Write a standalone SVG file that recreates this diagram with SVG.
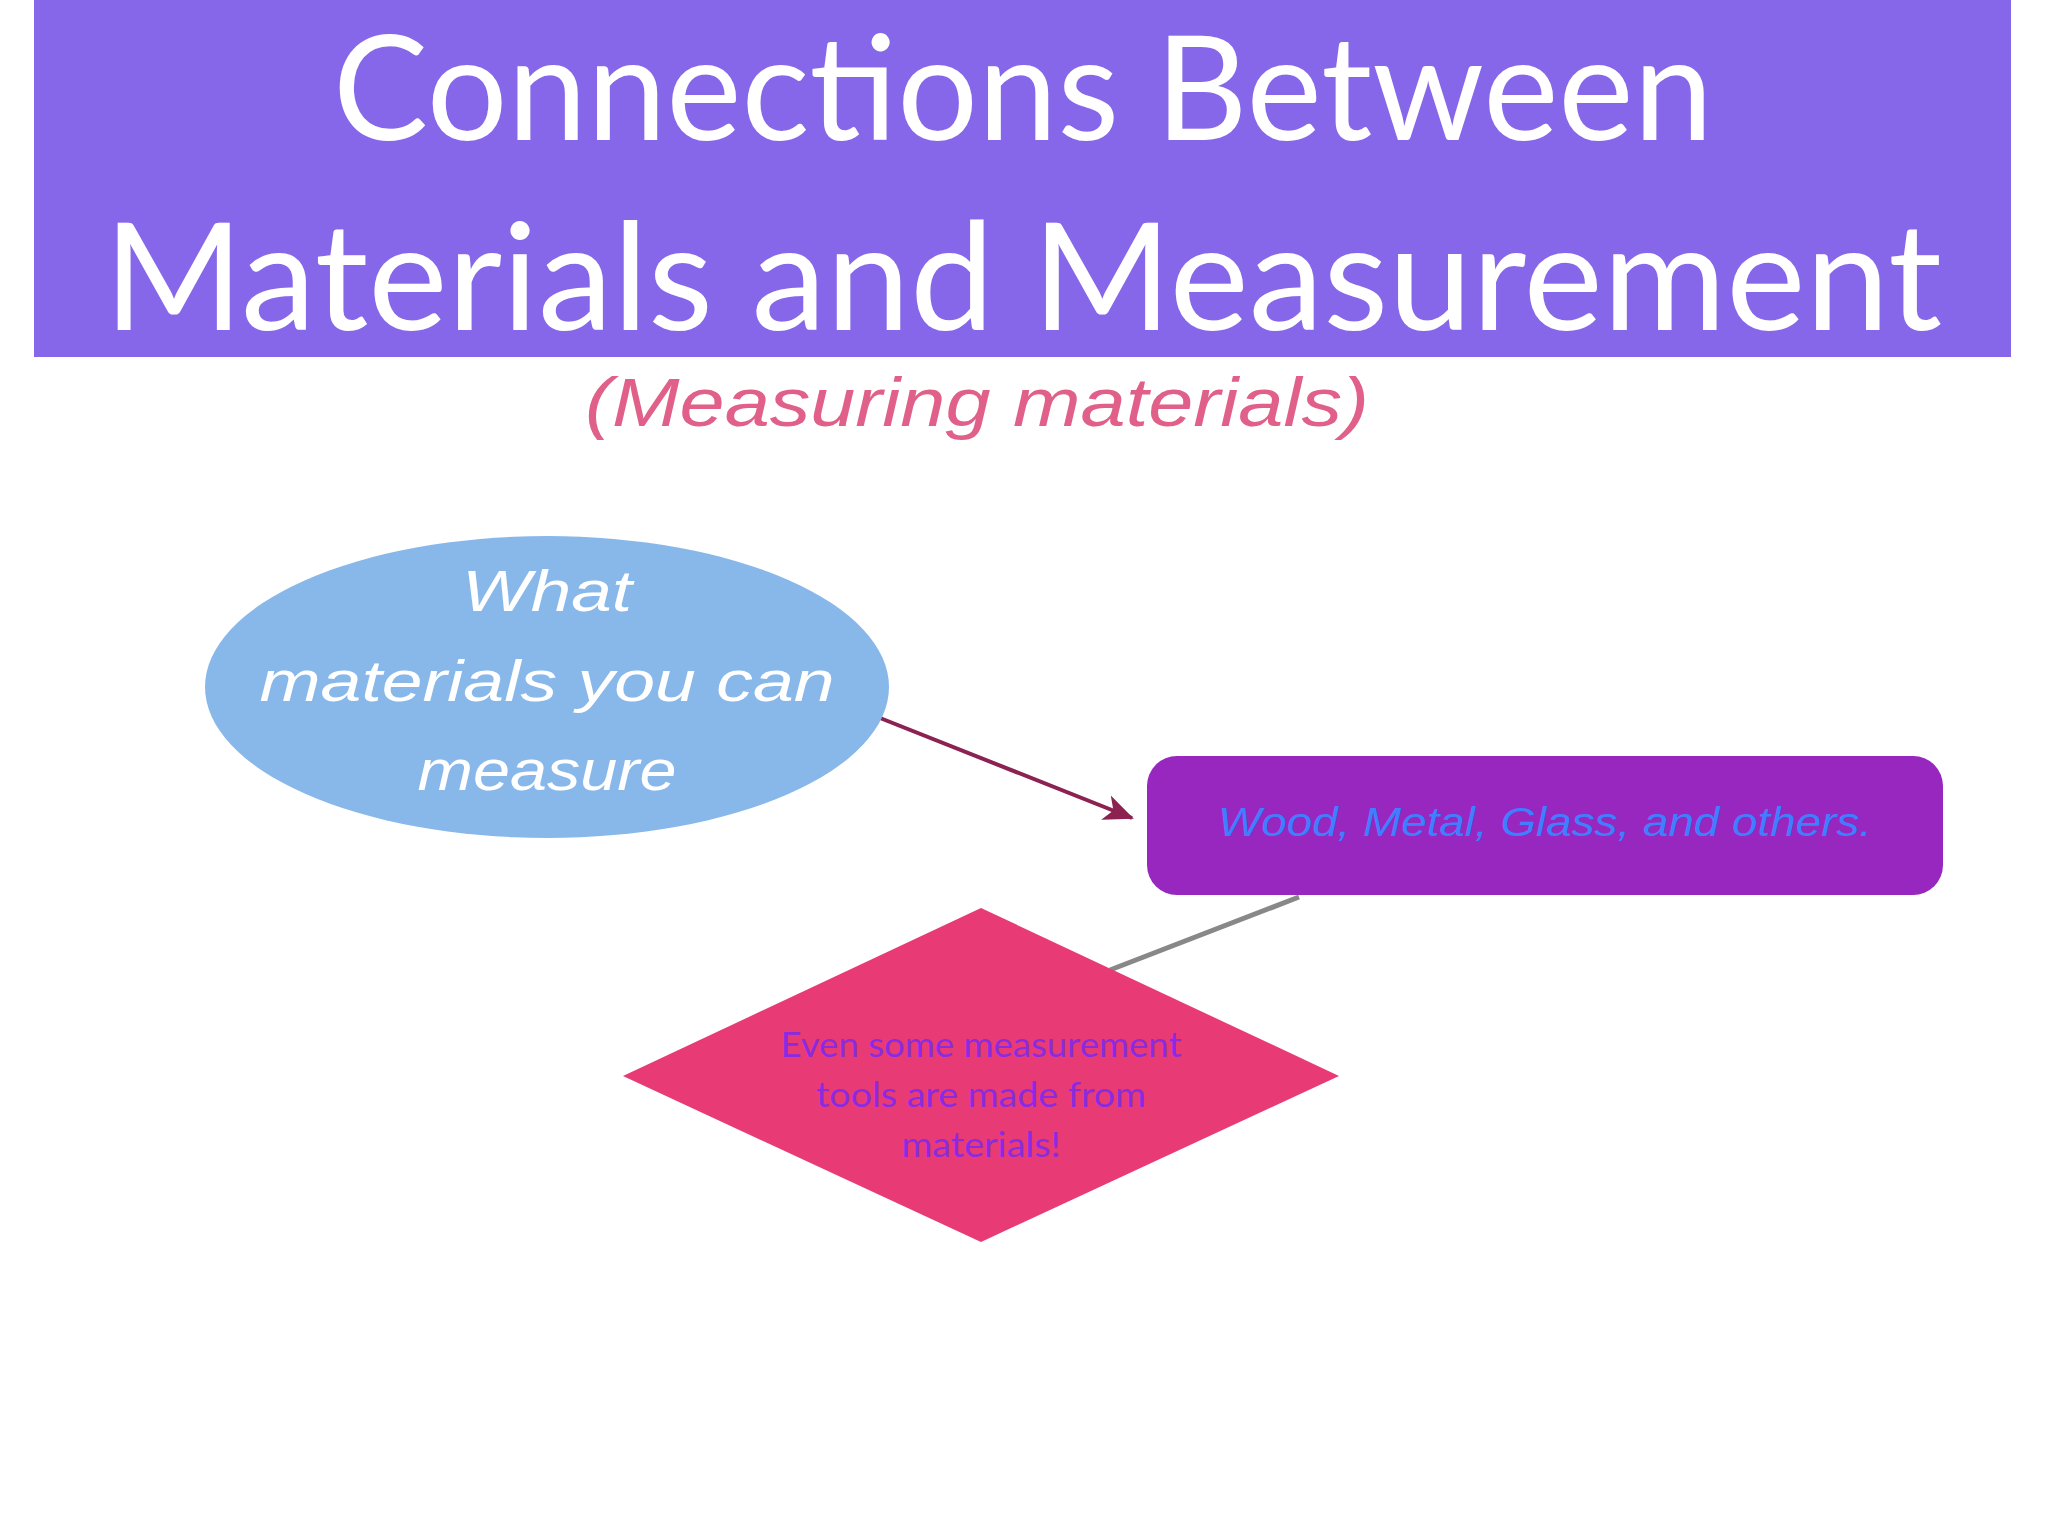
<svg xmlns="http://www.w3.org/2000/svg" width="2048" height="1536" viewBox="0 0 2048 1536">
<style>
.t{font-family:"Lato","Liberation Sans",sans-serif;text-anchor:middle}
.h{font-family:"Comic Sans MS","Liberation Sans",cursive;font-style:italic;text-anchor:middle}
</style>
<defs>
<marker id="ah2" markerWidth="30" markerHeight="30" refX="28" refY="15" orient="auto" markerUnits="userSpaceOnUse"><path d="M0,2 L30,15 L0,28 L8,15 z" fill="#8b2252"/></marker></defs>
<rect width="2048" height="1536" fill="#fff"/>
<g id="header">
<rect x="34" y="0" width="1977" height="357" fill="#8667ea"/>
<text class="t" x="1023" y="140" font-size="146" fill="#fff" textLength="1380" lengthAdjust="spacingAndGlyphs">Connections Between</text>
<text class="t" x="1023" y="330" font-size="150" fill="#fff" textLength="1838" lengthAdjust="spacingAndGlyphs">Materials and Measurement</text>
</g>
<text class="h" x="977" y="426" font-size="68" fill="#e0608a" textLength="784" lengthAdjust="spacingAndGlyphs">(Measuring materials)</text>
<g id="connectors">
<line x1="875" y1="716" x2="1132" y2="818" stroke="#8b2252" stroke-width="4" marker-end="url(#ah2)"/>
<line x1="1299" y1="897" x2="1110" y2="970" stroke="#888" stroke-width="5"/>
</g>
<g id="n1">
<ellipse cx="547" cy="687" rx="342" ry="151" fill="#88b8ea"/>
<text class="h" x="547" y="611" font-size="58" fill="#fff" textLength="170" lengthAdjust="spacingAndGlyphs">What</text>
<text class="h" x="547" y="701" font-size="58" fill="#fff" textLength="575" lengthAdjust="spacingAndGlyphs">materials you can</text>
<text class="h" x="547" y="790" font-size="58" fill="#fff" textLength="259" lengthAdjust="spacingAndGlyphs">measure</text>
</g>
<g id="n2">
<rect x="1147" y="756" width="796" height="139" rx="30" fill="#9727bf"/>
<text class="h" x="1545" y="836" font-size="40" fill="#3f7fff" textLength="654" lengthAdjust="spacingAndGlyphs">Wood, Metal, Glass, and others.</text>
</g>
<g id="n3">
<polygon points="981,908 1339,1076 981,1242 623,1076" fill="#e83a74"/>
<text class="t" x="981" y="1057" font-size="35" fill="#8a2be2" textLength="401" lengthAdjust="spacingAndGlyphs">Even some measurement</text>
<text class="t" x="981" y="1107" font-size="35" fill="#8a2be2" textLength="330" lengthAdjust="spacingAndGlyphs">tools are made from</text>
<text class="t" x="981" y="1157" font-size="35" fill="#8a2be2" textLength="159" lengthAdjust="spacingAndGlyphs">materials!</text>
</g>
</svg>
